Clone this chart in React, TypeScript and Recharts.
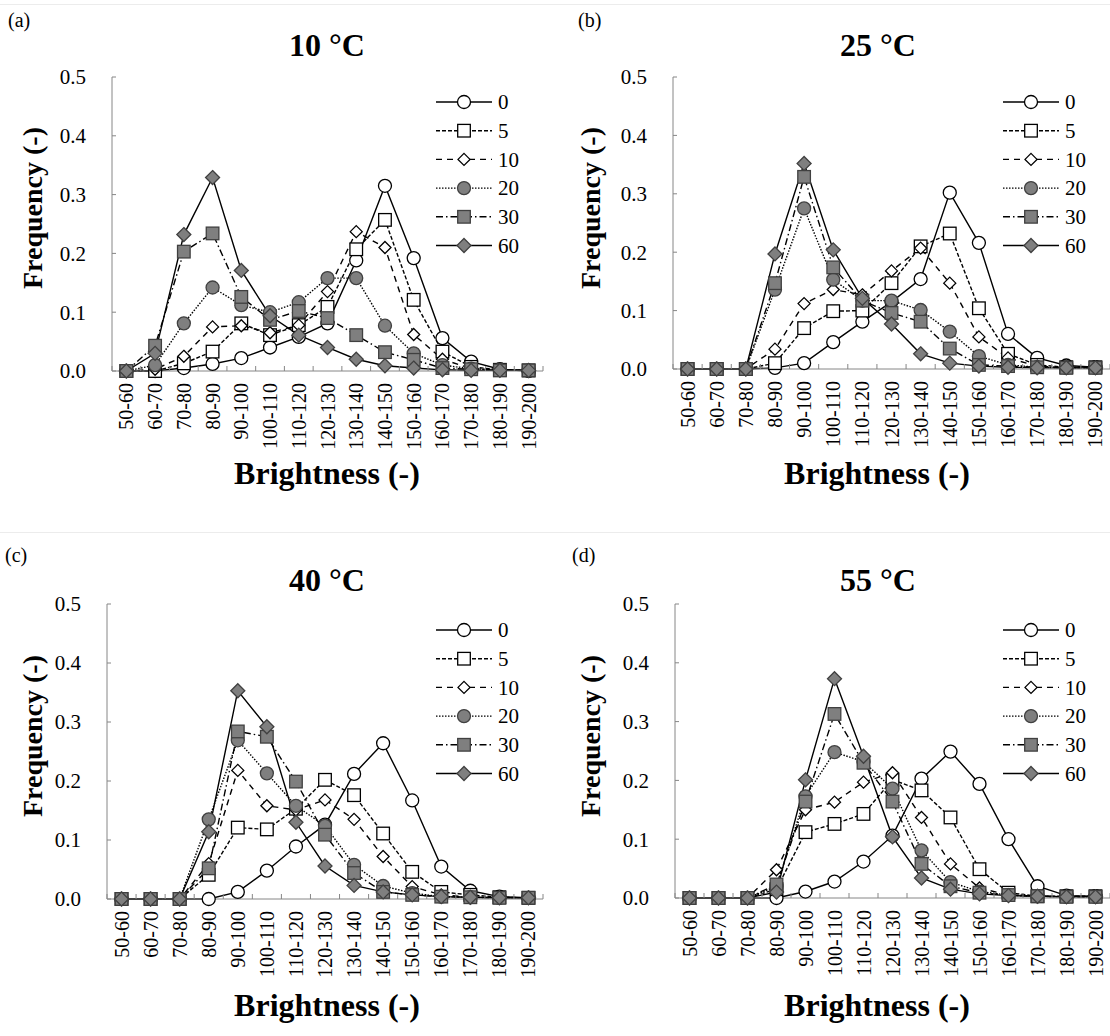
import { LineChart, Line, XAxis, YAxis, Legend } from 'recharts'

const CATEGORIES = [
  '50-60', '60-70', '70-80', '80-90', '90-100', '100-110', '110-120', '120-130',
  '130-140', '140-150', '150-160', '160-170', '170-180', '180-190', '190-200',
]
const SERIES_NAMES = ['0', '5', '10', '20', '30', '60']
const Y_TICKS = [0, 0.1, 0.2, 0.3, 0.4, 0.5]

// 10 °C
const t10_0 = [0, 0, 0.005, 0.012, 0.022, 0.04, 0.058, 0.081, 0.188, 0.315, 0.192, 0.056, 0.016, 0.003, 0]
const t10_5 = [0, 0, 0.013, 0.033, 0.081, 0.061, 0.078, 0.109, 0.207, 0.257, 0.121, 0.033, 0.007, 0.002, 0.001]
const t10_10 = [0, 0.003, 0.025, 0.075, 0.077, 0.065, 0.078, 0.135, 0.237, 0.21, 0.062, 0.02, 0.004, 0.002, 0.001]
const t10_20 = [0, 0.01, 0.081, 0.142, 0.112, 0.1, 0.117, 0.158, 0.158, 0.077, 0.03, 0.01, 0.004, 0.002, 0.001]
const t10_30 = [0, 0.043, 0.203, 0.234, 0.126, 0.087, 0.102, 0.09, 0.061, 0.032, 0.019, 0.005, 0.003, 0.001, 0.001]
const t10_60 = [0, 0.03, 0.232, 0.329, 0.171, 0.094, 0.061, 0.04, 0.02, 0.009, 0.005, 0.002, 0.001, 0.001, 0.001]

// 25 °C
const t25_0 = [0, 0, 0, 0.002, 0.01, 0.046, 0.081, 0.115, 0.154, 0.302, 0.216, 0.06, 0.019, 0.006, 0.003]
const t25_5 = [0, 0, 0, 0.01, 0.07, 0.099, 0.1, 0.147, 0.21, 0.232, 0.104, 0.026, 0.007, 0.003, 0.003]
const t25_10 = [0, 0, 0, 0.034, 0.112, 0.136, 0.127, 0.168, 0.207, 0.147, 0.055, 0.019, 0.005, 0.002, 0.002]
const t25_20 = [0, 0, 0, 0.136, 0.275, 0.153, 0.117, 0.117, 0.101, 0.064, 0.022, 0.007, 0.003, 0.002, 0.002]
const t25_30 = [0, 0, 0, 0.147, 0.329, 0.174, 0.117, 0.096, 0.081, 0.035, 0.007, 0.005, 0.003, 0.002, 0.002]
const t25_60 = [0, 0, 0, 0.197, 0.352, 0.204, 0.121, 0.077, 0.026, 0.01, 0.005, 0.003, 0.002, 0.002, 0.002]

// 40 °C
const t40_0 = [0, 0, 0, 0, 0.012, 0.048, 0.089, 0.126, 0.212, 0.264, 0.167, 0.055, 0.014, 0.004, 0.002]
const t40_5 = [0, 0, 0, 0.041, 0.121, 0.118, 0.153, 0.202, 0.176, 0.111, 0.046, 0.012, 0.007, 0.003, 0.002]
const t40_10 = [0, 0, 0, 0.06, 0.218, 0.158, 0.151, 0.168, 0.135, 0.072, 0.021, 0.007, 0.003, 0.002, 0.002]
const t40_20 = [0, 0, 0, 0.135, 0.269, 0.213, 0.158, 0.124, 0.058, 0.022, 0.01, 0.004, 0.003, 0.002, 0.002]
const t40_30 = [0, 0, 0, 0.052, 0.284, 0.275, 0.199, 0.109, 0.044, 0.012, 0.007, 0.004, 0.003, 0.002, 0.002]
const t40_60 = [0, 0, 0, 0.114, 0.353, 0.292, 0.13, 0.056, 0.023, 0.012, 0.007, 0.004, 0.003, 0.002, 0.002]

// 55 °C
const t55_0 = [0, 0, 0, 0, 0.011, 0.028, 0.062, 0.106, 0.203, 0.249, 0.194, 0.1, 0.02, 0.004, 0.003]
const t55_5 = [0, 0, 0, 0.015, 0.112, 0.126, 0.143, 0.201, 0.183, 0.137, 0.049, 0.009, 0.003, 0.003, 0.003]
const t55_10 = [0, 0, 0, 0.048, 0.15, 0.163, 0.197, 0.213, 0.137, 0.058, 0.017, 0.005, 0.003, 0.002, 0.002]
const t55_20 = [0, 0, 0, 0.02, 0.173, 0.248, 0.232, 0.186, 0.081, 0.027, 0.011, 0.005, 0.003, 0.002, 0.002]
const t55_30 = [0, 0, 0, 0.023, 0.164, 0.313, 0.23, 0.164, 0.058, 0.02, 0.009, 0.005, 0.003, 0.002, 0.002]
const t55_60 = [0, 0, 0, 0.01, 0.201, 0.373, 0.241, 0.104, 0.034, 0.015, 0.007, 0.004, 0.003, 0.002, 0.002]

const FONT = "'Times New Roman', 'Liberation Serif', serif"
const GRAY = '#7f7f7f'
const AXIS = '#868686'
const Y_W = 40
const X_H = 40

type Shape = 'circle' | 'square' | 'diamond' | 'smallDiamond'
interface SeriesStyle { dash?: string; shape: Shape; fill: string; stroke: string }

const STYLES: SeriesStyle[] = [
  { shape: 'circle', fill: '#fff', stroke: '#000' },
  { dash: '4 2', shape: 'square', fill: '#fff', stroke: '#000' },
  { dash: '6 5', shape: 'smallDiamond', fill: '#fff', stroke: '#000' },
  { dash: '1.5 1.5', shape: 'circle', fill: GRAY, stroke: '#404040' },
  { dash: '7 3 1.5 3', shape: 'square', fill: GRAY, stroke: '#404040' },
  { shape: 'diamond', fill: GRAY, stroke: '#404040' },
]

function Marker({ cx, cy, s }: { cx: number; cy: number; s: SeriesStyle }) {
  const common = { fill: s.fill, stroke: s.stroke, strokeWidth: 1.3 }
  if (s.shape === 'circle') return <circle cx={cx} cy={cy} r={6.5} {...common} />
  if (s.shape === 'square') return <rect x={cx - 6.3} y={cy - 6.3} width={12.6} height={12.6} {...common} />
  const h = s.shape === 'diamond' ? 7 : 6
  return <polygon points={`${cx},${cy - h} ${cx + h},${cy} ${cx},${cy + h} ${cx - h},${cy}`} {...common} />
}

interface Panel {
  tag: string
  title: string
  series: number[][]
  x: number
  y: number
  h: number
  margin: { top: number; right: number; bottom: number; left: number }
  text: { tag: [number, number]; title: [number, number]; freq: [number, number]; bright: [number, number] }
}

const PANELS: Panel[] = [
  {
    tag: '(a)', title: '10 °C', series: [t10_0, t10_5, t10_10, t10_20, t10_30, t10_60],
    x: 0, y: 0, h: 528, margin: { top: 77, right: 12, bottom: 117, left: 72 },
    text: { tag: [8, 27], title: [327, 56], freq: [32, 208], bright: [327, 484] },
  },
  {
    tag: '(b)', title: '25 °C', series: [t25_0, t25_5, t25_10, t25_20, t25_30, t25_60],
    x: 555, y: 0, h: 528, margin: { top: 77, right: 0, bottom: 119, left: 78 },
    text: { tag: [578, 27], title: [878, 56], freq: [590, 208], bright: [877, 484] },
  },
  {
    tag: '(c)', title: '40 °C', series: [t40_0, t40_5, t40_10, t40_20, t40_30, t40_60],
    x: 0, y: 528, h: 508, margin: { top: 76, right: 12, bottom: 97, left: 67 },
    text: { tag: [5, 562], title: [327, 591], freq: [32, 736], bright: [327, 1016] },
  },
  {
    tag: '(d)', title: '55 °C', series: [t55_0, t55_5, t55_10, t55_20, t55_30, t55_60],
    x: 555, y: 528, h: 508, margin: { top: 76, right: 0, bottom: 98, left: 80 },
    text: { tag: [572, 562], title: [878, 591], freq: [590, 736], bright: [877, 1016] },
  },
]

function buildRows(series: number[][]) {
  return CATEGORIES.map((cat, i) => {
    const row: Record<string, string | number> = { cat }
    series.forEach((vals, j) => { row['s' + j] = vals[i] })
    return row
  })
}

const makeXTick = (step: number) => (props: any) => {
  const { x, y, payload, index } = props
  return (
    <g>
      <line x1={x - step / 2} x2={x - step / 2} y1={y} y2={y - 5} stroke={AXIS} />
      {index === CATEGORIES.length - 1 && (
        <line x1={x + step / 2} x2={x + step / 2} y1={y} y2={y - 5} stroke={AXIS} />
      )}
      <text
        transform={`translate(${x},${y + 12}) rotate(-90)`}
        textAnchor="end"
        dy="0.35em"
        fontFamily={FONT}
        fontSize={20}
        fill="#000"
      >
        {payload.value}
      </text>
    </g>
  )
}

const YTick = (props: any) => {
  const { x, y, payload } = props
  return (
    <g>
      <line x1={x} x2={x + 4} y1={y} y2={y} stroke={AXIS} />
      <text x={x - 26} y={y} dy="0.35em" textAnchor="end" fontFamily={FONT} fontSize={21} fill="#000">
        {payload.value.toFixed(1)}
      </text>
    </g>
  )
}

const renderLegend = () => (
  <svg width={110} height={175}>
    {STYLES.map((s, i) => {
      const cy = 14 + i * 28.7
      return (
        <g key={i}>
          <line x1={0} x2={56} y1={cy} y2={cy} stroke="#000" strokeWidth={1.4} strokeDasharray={s.dash} />
          <Marker cx={28} cy={cy} s={s} />
          <text x={62} y={cy} dy="0.35em" fontSize={21} fontFamily={FONT} fill="#000">
            {SERIES_NAMES[i]}
          </text>
        </g>
      )
    })}
  </svg>
)

function PanelChart({ p }: { p: Panel }) {
  const rows = buildRows(p.series)
  const plotW = 555 - p.margin.left - p.margin.right - Y_W
  const step = plotW / CATEGORIES.length
  return (
    <div style={{ position: 'absolute', left: p.x, top: p.y }}>
      <LineChart width={555} height={p.h} data={rows} margin={p.margin}>
        <XAxis
          dataKey="cat"
          scale="band"
          height={X_H}
          interval={0}
          tickSize={0}
          tickMargin={0}
          stroke={AXIS}
          tick={makeXTick(step)}
        />
        <XAxis xAxisId="top" orientation="top" dataKey="cat" scale="band" height={0} tick={false} tickLine={false} stroke={AXIS} />
        <YAxis
          domain={[0, 0.5]}
          ticks={Y_TICKS}
          interval={0}
          width={Y_W}
          tickSize={0}
          tickMargin={0}
          stroke={AXIS}
          tick={YTick}
        />
        <YAxis yAxisId="right" orientation="right" domain={[0, 0.5]} width={0} tick={false} tickLine={false} stroke={AXIS} />
        <Legend
          layout="vertical"
          align="center"
          verticalAlign="middle"
          content={renderLegend}
          wrapperStyle={{ left: p.margin.left + Y_W + plotW - 107, top: 88, width: 110, height: 175 }}
        />
        {STYLES.map((s, i) => (
          <Line
            key={i}
            type="linear"
            dataKey={'s' + i}
            name={SERIES_NAMES[i]}
            stroke="#000"
            strokeWidth={1.4}
            strokeDasharray={s.dash}
            isAnimationActive={false}
            activeDot={false}
            dot={(d: any) => <Marker key={'d' + i + '-' + d.index} cx={d.cx} cy={d.cy} s={s} />}
          />
        ))}
      </LineChart>
    </div>
  )
}

export default function App() {
  return (
    <div style={{ position: 'absolute', left: 0, top: 0, width: 1110, height: 1036, background: '#fff', overflow: 'hidden' }}>
      <svg width={1110} height={1036} style={{ position: 'absolute', left: 0, top: 0 }}>
        <line x1={0} x2={1110} y1={4.5} y2={4.5} stroke="#ececec" />
        <line x1={0} x2={1110} y1={532.5} y2={532.5} stroke="#ececec" />
      </svg>
      {PANELS.map((p) => <PanelChart key={p.tag} p={p} />)}
      <svg width={1110} height={1036} style={{ position: 'absolute', left: 0, top: 0, pointerEvents: 'none' }}>
        {PANELS.map((p) => (
          <g key={p.tag} fontFamily={FONT} fill="#000">
            <text x={p.text.tag[0]} y={p.text.tag[1]} fontSize={20}>{p.tag}</text>
            <text x={p.text.title[0]} y={p.text.title[1]} fontSize={32} fontWeight="bold" textAnchor="middle">
              {p.title}
            </text>
            <text
              transform={`translate(${p.text.freq[0]},${p.text.freq[1]}) rotate(-90)`}
              dy="0.35em"
              fontSize={28}
              fontWeight="bold"
              textAnchor="middle"
            >
              Frequency (-)
            </text>
            <text x={p.text.bright[0]} y={p.text.bright[1]} fontSize={32} fontWeight="bold" textAnchor="middle">
              Brightness (-)
            </text>
          </g>
        ))}
      </svg>
    </div>
  )
}
